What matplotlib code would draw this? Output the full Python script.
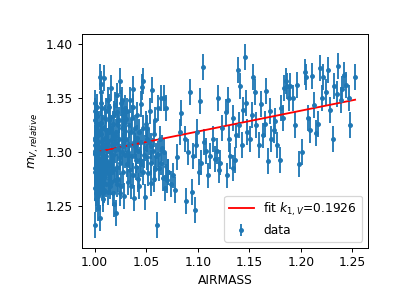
import matplotlib
matplotlib.use("Agg")
import matplotlib.pyplot as plt
import numpy as np

# ---- data ----
dense_pts = [
    # x 1.000-1.004
    (1.0004,1.232),(1.0011,1.318),(1.0019,1.287),(1.0007,1.301),(1.0025,1.274),(1.0002,1.329),(1.0015,1.262),
    (1.0031,1.309),(1.0009,1.295),(1.0022,1.341),(1.0005,1.281),(1.0013,1.322),(1.0028,1.268),(1.0017,1.305),
    (1.0003,1.313),(1.0036,1.290),(1.0010,1.256),(1.0024,1.326),(1.0006,1.299),(1.0020,1.279),(1.0033,1.315),
    (1.0001,1.285),(1.0014,1.336),(1.0027,1.296),(1.0008,1.272),(1.0018,1.310),(1.0030,1.248),(1.0012,1.292),
    (1.0023,1.320),(1.0004,1.266),(1.0016,1.303),(1.0035,1.283),(1.0002,1.338),(1.0026,1.307),(1.0009,1.277),
    (1.0021,1.294),(1.0038,1.326),(1.0006,1.311),(1.0013,1.285),(1.0029,1.259),(1.0001,1.298),(1.0019,1.333),
    (1.0032,1.300),(1.0011,1.270),(1.0024,1.289),(1.0007,1.345),(1.0016,1.316),(1.0034,1.276),(1.0003,1.306),
    (1.0027,1.318),
    # x 1.004-1.010
    (1.0042,1.262),(1.0048,1.369),(1.0051,1.239),(1.0055,1.283),(1.0058,1.355),(1.0061,1.363),(1.0064,1.275),
    (1.0067,1.298),(1.0070,1.268),(1.0073,1.310),(1.0076,1.289),(1.0079,1.256),(1.0082,1.322),(1.0085,1.278),
    (1.0088,1.368),(1.0091,1.292),(1.0094,1.265),(1.0097,1.331),(1.0045,1.304),(1.0053,1.271),(1.0060,1.316),
    (1.0068,1.286),(1.0075,1.340),(1.0083,1.301),(1.0090,1.276),(1.0099,1.313),(1.0047,1.293),(1.0063,1.327),
    (1.0078,1.262),(1.0093,1.296),(1.0057,1.345),(1.0086,1.284),
    # x 1.010-1.020
    (1.0102,1.282),(1.0108,1.338),(1.0113,1.270),(1.0118,1.305),(1.0122,1.291),(1.0127,1.348),(1.0131,1.263),
    (1.0136,1.318),(1.0140,1.279),(1.0145,1.300),(1.0149,1.332),(1.0154,1.287),(1.0158,1.359),(1.0162,1.272),
    (1.0167,1.312),(1.0171,1.295),(1.0176,1.262),(1.0180,1.326),(1.0185,1.284),(1.0189,1.252),(1.0193,1.343),
    (1.0197,1.302),(1.0105,1.320),(1.0116,1.288),(1.0125,1.310),(1.0134,1.276),(1.0143,1.341),(1.0152,1.268),
    (1.0160,1.322),(1.0169,1.281),(1.0178,1.297),(1.0187,1.335),(1.0195,1.274),(1.0111,1.296),(1.0138,1.329),
    (1.0164,1.306),(1.0183,1.315),
    # x 1.020-1.030
    (1.0203,1.243),(1.0208,1.318),(1.0212,1.337),(1.0217,1.286),(1.0221,1.352),(1.0226,1.303),(1.0230,1.275),
    (1.0235,1.329),(1.0239,1.312),(1.0244,1.365),(1.0248,1.290),(1.0253,1.345),(1.0257,1.268),(1.0262,1.322),
    (1.0266,1.300),(1.0271,1.335),(1.0275,1.281),(1.0280,1.316),(1.0284,1.259),(1.0289,1.327),(1.0293,1.297),
    (1.0297,1.340),(1.0206,1.308),(1.0224,1.325),(1.0242,1.295),(1.0260,1.348),(1.0278,1.305),(1.0295,1.319),
    (1.0215,1.270),(1.0250,1.262),
    # x 1.030-1.040
    (1.0303,1.312),(1.0309,1.289),(1.0314,1.338),(1.0320,1.300),(1.0325,1.272),(1.0331,1.325),(1.0336,1.306),
    (1.0342,1.348),(1.0347,1.283),(1.0353,1.318),(1.0358,1.296),(1.0364,1.331),(1.0369,1.358),(1.0375,1.278),
    (1.0380,1.309),(1.0386,1.257),(1.0391,1.322),(1.0397,1.292),(1.0306,1.330),(1.0328,1.297),(1.0350,1.268),
    (1.0372,1.341),(1.0394,1.305),
    # x 1.040-1.050
    (1.0403,1.286),(1.0410,1.334),(1.0417,1.301),(1.0424,1.275),(1.0431,1.318),(1.0438,1.292),(1.0445,1.344),
    (1.0452,1.309),(1.0459,1.360),(1.0466,1.281),(1.0473,1.365),(1.0480,1.297),(1.0487,1.258),(1.0494,1.326),
    (1.0407,1.313),(1.0428,1.268),(1.0449,1.289),(1.0470,1.322),(1.0491,1.303),
    # x 1.050-1.060
    (1.0504,1.295),(1.0512,1.322),(1.0519,1.280),(1.0527,1.309),(1.0535,1.338),(1.0542,1.290),(1.0550,1.271),
    (1.0558,1.357),(1.0565,1.301),(1.0573,1.316),(1.0581,1.284),(1.0588,1.329),(1.0596,1.296),(1.0508,1.312),
    (1.0546,1.305),(1.0577,1.275),
    # x 1.060-1.072
    (1.0603,1.232),(1.0610,1.340),(1.0618,1.298),(1.0625,1.285),(1.0633,1.312),(1.0641,1.350),(1.0648,1.290),
    (1.0656,1.303),(1.0664,1.276),(1.0672,1.300),(1.0680,1.266),(1.0690,1.287),(1.0700,1.274),(1.0715,1.281),
]

sparse_pts = [
    (1.067,1.350),(1.069,1.340),(1.071,1.281),(1.074,1.270),(1.076,1.278),(1.078,1.265),(1.080,1.295),
    (1.083,1.318),(1.084,1.336),(1.088,1.312),(1.089,1.254),(1.091,1.300),(1.092,1.355),(1.094,1.263),
    (1.095,1.296),(1.097,1.246),(1.098,1.306),(1.099,1.318),
    (1.101,1.281),(1.102,1.347),(1.103,1.290),(1.105,1.378),(1.106,1.309),(1.108,1.301),(1.110,1.278),
    (1.112,1.296),(1.115,1.312),(1.117,1.293),(1.119,1.301),(1.120,1.350),(1.121,1.283),(1.122,1.290),
    (1.124,1.322),(1.127,1.337),(1.128,1.278),(1.129,1.348),(1.130,1.312),(1.131,1.296),(1.134,1.331),
    (1.134,1.285),(1.136,1.292),(1.137,1.315),(1.139,1.376),(1.140,1.325),(1.141,1.361),(1.143,1.306),
    (1.144,1.339),(1.146,1.388),(1.147,1.345),(1.148,1.318),
    (1.151,1.312),(1.153,1.334),(1.154,1.369),(1.156,1.355),(1.157,1.325),(1.159,1.306),(1.161,1.344),
    (1.163,1.315),(1.165,1.326),(1.166,1.356),(1.168,1.291),(1.170,1.338),(1.171,1.312),(1.174,1.320),
    (1.175,1.328),(1.177,1.306),(1.180,1.292),(1.181,1.340),(1.183,1.331),(1.184,1.359),(1.186,1.365),
    (1.187,1.361),(1.189,1.350),(1.190,1.361),(1.192,1.350),(1.194,1.325),(1.196,1.362),(1.198,1.289),
    (1.201,1.300),(1.204,1.374),(1.205,1.369),(1.207,1.331),(1.209,1.320),(1.211,1.370),(1.213,1.343),
    (1.215,1.317),(1.217,1.326),(1.219,1.377),(1.221,1.350),(1.222,1.369),(1.224,1.355),(1.226,1.376),
    (1.228,1.339),(1.231,1.312),(1.232,1.361),(1.235,1.353),(1.236,1.379),(1.239,1.348),(1.240,1.358),
    (1.242,1.371),(1.244,1.362),(1.247,1.350),(1.248,1.325),(1.2527,1.369),
]

airmass = [p[0] for p in dense_pts + sparse_pts]
mag = [p[1] for p in dense_pts + sparse_pts]
mag_err = 0.012

k_fit = 0.1926
intercept = 1.1068

# ---- plot ----
DPI = 88
fig = plt.figure(figsize=(409/DPI, 292/DPI), dpi=DPI)
ax = fig.add_axes([0.2, 0.151, 0.70, 0.733])

ax.errorbar(airmass, mag, yerr=mag_err, fmt='.', color='C0', label='data')
x = np.array(airmass)
order = np.argsort(x)
xs = x[order]
ax.plot(xs, intercept + k_fit * xs, color='red', label=r'fit $k_{1,V}$=0.1926')

ax.set_xlabel('AIRMASS')
ax.set_ylabel(r'$m_{V, relative}$')
ax.set_xticks([1.00, 1.05, 1.10, 1.15, 1.20, 1.25])
ax.set_yticks([1.25, 1.30, 1.35, 1.40])
handles, labels = ax.get_legend_handles_labels()
ax.legend(handles[::-1] if labels[0] == 'data' else handles,
          labels[::-1] if labels[0] == 'data' else labels, loc='lower right')

fig.savefig('out.png', dpi=DPI)
